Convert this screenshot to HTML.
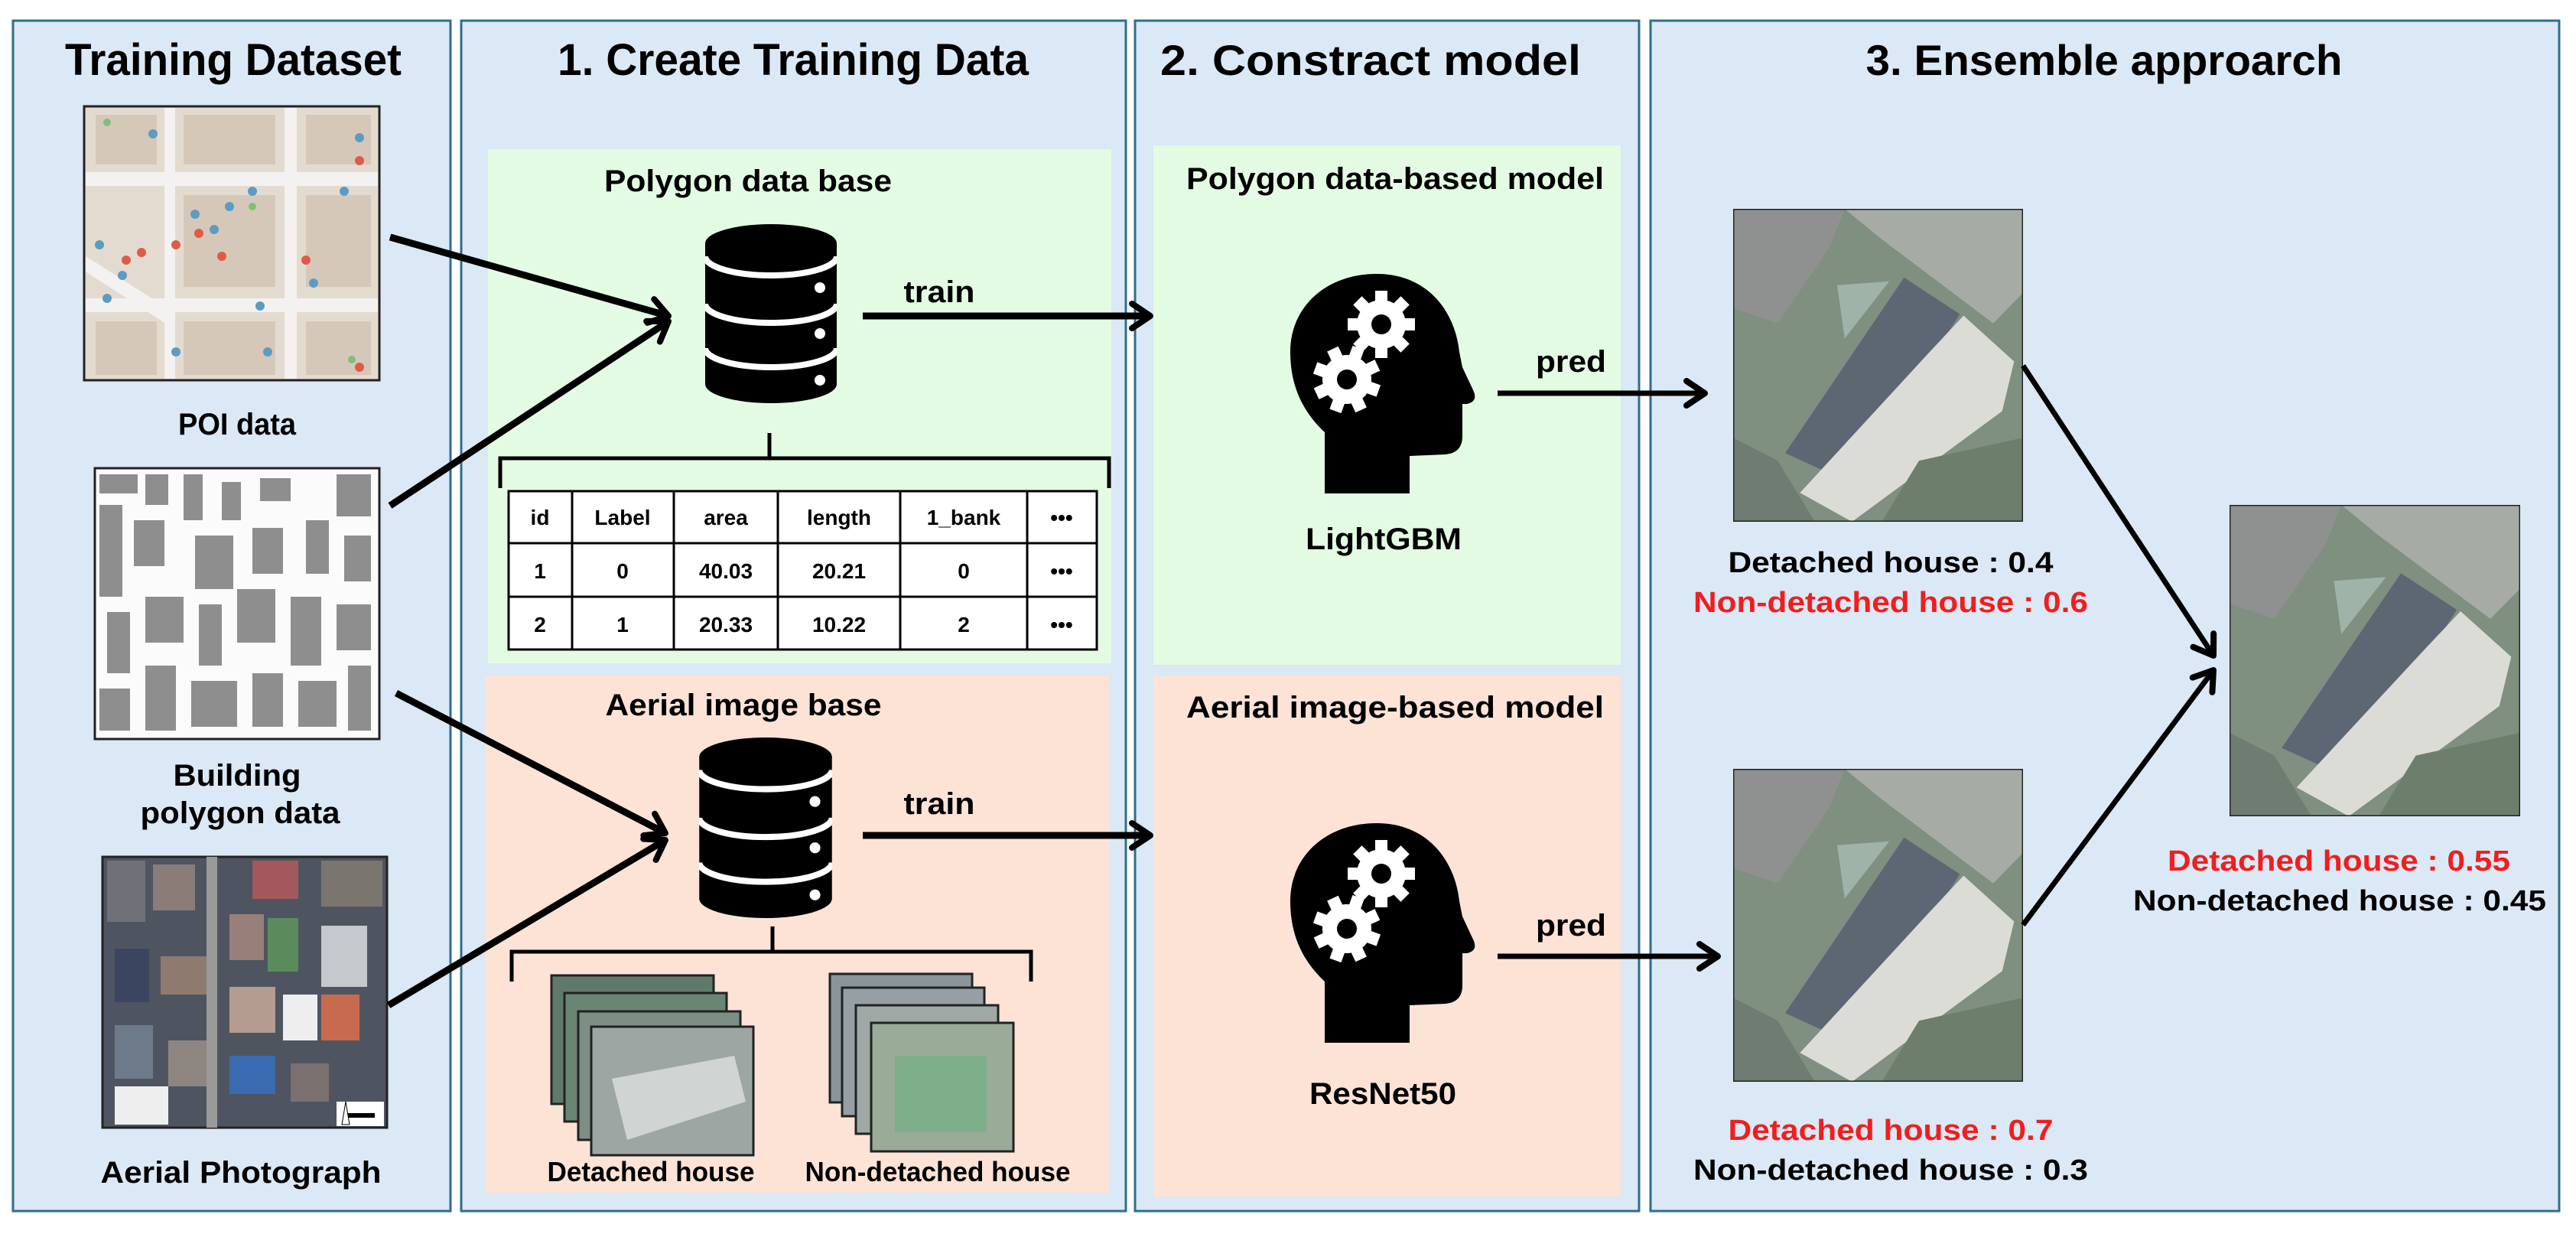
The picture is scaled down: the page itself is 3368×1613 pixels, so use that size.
<!DOCTYPE html>
<html><head><meta charset="utf-8"><style>
html,body{margin:0;padding:0;background:#fff;}
svg{display:block;}
text{font-family:"Liberation Sans",Arial,sans-serif;font-weight:bold;}
</style></head><body>
<svg width="3368" height="1613" viewBox="0 0 3368 1613" xmlns="http://www.w3.org/2000/svg">
<defs>
<marker id="ah" markerWidth="40" markerHeight="40" refX="30" refY="20" orient="auto" markerUnits="userSpaceOnUse">
<path d="M6,4 L30,20 L6,36" fill="none" stroke="#000" stroke-width="8" stroke-linecap="round" stroke-linejoin="round"/>
</marker>
<symbol id="house" viewBox="0 0 390 410" preserveAspectRatio="none">
<rect width="390" height="410" fill="#7f8f80"/>
<polygon points="0,0 150,0 130,50 60,150 0,130" fill="#8f9190"/>
<polygon points="150,0 390,0 390,110 350,150 200,40" fill="#a7aba5"/>
<polygon points="0,300 60,330 110,410 0,410" fill="#6f7c72"/>
<polygon points="230,90 305,138 160,360 70,320" fill="#5d6673"/>
<polygon points="140,100 210,95 150,170" fill="#9fb3a8"/>
<polygon points="310,140 378,200 362,265 160,410 90,372 262,190" fill="#dcdcd6"/>
<polygon points="250,330 390,300 390,410 200,410" fill="#6d7f6c"/>
<rect width="390" height="410" fill="none" stroke="#222" stroke-width="3"/>
</symbol>
<symbol id="db" viewBox="0 0 172 234">
<ellipse cx="86" cy="25" rx="86" ry="25" fill="#000"/>
<rect x="0" y="25" width="172" height="184" fill="#000"/>
<ellipse cx="86" cy="209" rx="86" ry="25" fill="#000"/>
<path d="M0,42 A86,25 0 0 0 172,42" fill="none" stroke="#fff" stroke-width="8"/>
<path d="M0,104 A86,25 0 0 0 172,104" fill="none" stroke="#fff" stroke-width="8"/>
<path d="M0,162 A86,25 0 0 0 172,162" fill="none" stroke="#fff" stroke-width="8"/>
<circle cx="150" cy="83" r="7" fill="#fff"/>
<circle cx="150" cy="143" r="7" fill="#fff"/>
<circle cx="150" cy="204" r="7" fill="#fff"/>
</symbol>
<g id="gear">
<g fill="#fff">
<circle r="32"/>
<rect x="-8" y="-44" width="16" height="88"/>
<rect x="-8" y="-44" width="16" height="88" transform="rotate(45)"/>
<rect x="-8" y="-44" width="16" height="88" transform="rotate(90)"/>
<rect x="-8" y="-44" width="16" height="88" transform="rotate(135)"/>
</g>
<circle r="13" fill="#000"/>
</g>
<symbol id="head" viewBox="0 0 260 320">
<path d="M52,315 L52,235 C20,205 7,170 7,130 C7,70 55,28 120,28 C185,28 222,75 228,130 L232,150 L247,182 Q252,195 238,198 L232,198 L232,240 Q232,262 210,264 L163,266 L163,315 Z" fill="#000"/>
<use href="#gear" transform="translate(126,94)"/>
<use href="#gear" transform="translate(81,166) rotate(20)"/>
</symbol>
</defs>

<!-- panels -->
<rect x="17" y="27" width="572" height="1556" fill="#dbe8f5" stroke="#2f6d8c" stroke-width="3"/>
<rect x="603" y="27" width="869" height="1556" fill="#dbe8f5" stroke="#2f6d8c" stroke-width="3"/>
<rect x="1484" y="27" width="659" height="1556" fill="#dbe8f5" stroke="#2f6d8c" stroke-width="3"/>
<rect x="2158" y="27" width="1188" height="1556" fill="#dbe8f5" stroke="#2f6d8c" stroke-width="3"/>

<rect x="638" y="195" width="815" height="672" fill="#e3fbe3"/>
<rect x="634" y="883" width="817" height="676" fill="#fce3d6"/>
<rect x="1508" y="190" width="611" height="679" fill="#e3fbe3"/>
<rect x="1508" y="883" width="611" height="681" fill="#fce3d6"/>

<!-- titles -->
<text x="305" y="98" font-size="58" text-anchor="middle" textLength="440" lengthAdjust="spacingAndGlyphs">Training Dataset</text>
<text x="1037" y="98" font-size="58" text-anchor="middle" textLength="616" lengthAdjust="spacingAndGlyphs">1. Create Training Data</text>
<text x="1792" y="98" font-size="56" text-anchor="middle" textLength="550" lengthAdjust="spacingAndGlyphs">2. Constract model</text>
<text x="2751" y="98" font-size="56" text-anchor="middle" textLength="623" lengthAdjust="spacingAndGlyphs">3. Ensemble approarch</text>

<!-- left images -->
<g>
<rect x="110" y="139" width="386" height="358" fill="#e4dbd0" stroke="#222" stroke-width="3"/>
<g fill="#f4f2f0">
<rect x="112" y="225" width="382" height="18"/><rect x="112" y="390" width="382" height="18"/>
<rect x="215" y="141" width="14" height="354"/><rect x="372" y="141" width="16" height="354"/>
<polygon points="112,335 230,410 220,425 112,355"/>
</g>
<g fill="#d6c8b8">
<rect x="125" y="150" width="80" height="65"/><rect x="240" y="150" width="120" height="65"/><rect x="400" y="150" width="85" height="65"/>
<rect x="240" y="255" width="120" height="120"/><rect x="400" y="255" width="85" height="120"/>
<rect x="125" y="420" width="80" height="70"/><rect x="240" y="420" width="120" height="70"/><rect x="400" y="420" width="85" height="70"/>
</g>
<g fill="#5c9bc4">
<circle cx="255" cy="280" r="6"/><circle cx="280" cy="300" r="6"/><circle cx="300" cy="270" r="6"/><circle cx="140" cy="390" r="6"/><circle cx="160" cy="360" r="6"/><circle cx="340" cy="400" r="6"/><circle cx="410" cy="370" r="6"/><circle cx="330" cy="250" r="6"/><circle cx="470" cy="180" r="6"/><circle cx="230" cy="460" r="6"/><circle cx="130" cy="320" r="6"/><circle cx="350" cy="460" r="6"/><circle cx="200" cy="175" r="6"/><circle cx="450" cy="250" r="6"/>
</g>
<g fill="#e05a4a">
<circle cx="260" cy="305" r="6"/><circle cx="165" cy="340" r="6"/><circle cx="185" cy="330" r="6"/><circle cx="230" cy="320" r="6"/><circle cx="290" cy="335" r="6"/><circle cx="470" cy="210" r="6"/><circle cx="470" cy="480" r="6"/><circle cx="400" cy="340" r="6"/>
</g>
<g fill="#7cc07a"><circle cx="140" cy="160" r="5"/><circle cx="330" cy="270" r="5"/><circle cx="460" cy="470" r="5"/></g>
</g>

<g>
<rect x="124" y="612" width="372" height="354" fill="#fbfbfb" stroke="#222" stroke-width="3"/>
<g fill="#8e8e8e">
<rect x="130" y="620" width="50" height="25"/><rect x="190" y="620" width="30" height="40"/><rect x="240" y="620" width="25" height="60"/><rect x="290" y="630" width="25" height="50"/><rect x="340" y="625" width="40" height="30"/><rect x="440" y="620" width="45" height="55"/>
<rect x="130" y="660" width="30" height="120"/><rect x="175" y="680" width="40" height="60"/><rect x="255" y="700" width="50" height="70"/><rect x="330" y="690" width="40" height="60"/><rect x="400" y="680" width="30" height="70"/><rect x="450" y="700" width="35" height="60"/>
<rect x="140" y="800" width="30" height="80"/><rect x="190" y="780" width="50" height="60"/><rect x="260" y="790" width="30" height="80"/><rect x="310" y="770" width="50" height="70"/><rect x="380" y="780" width="40" height="90"/><rect x="440" y="790" width="45" height="60"/>
<rect x="130" y="900" width="40" height="55"/><rect x="190" y="870" width="40" height="85"/><rect x="250" y="890" width="60" height="60"/><rect x="330" y="880" width="40" height="70"/><rect x="390" y="890" width="50" height="60"/><rect x="455" y="870" width="30" height="85"/>
</g>
</g>

<g>
<rect x="134" y="1120" width="372" height="354" fill="#4e5560" stroke="#222" stroke-width="3"/>
<g>
<rect x="140" y="1125" width="50" height="80" fill="#6f7078"/><rect x="200" y="1130" width="55" height="60" fill="#8a7d78"/><rect x="330" y="1125" width="60" height="50" fill="#a2585c"/><rect x="420" y="1125" width="80" height="60" fill="#7b7570"/>
<rect x="300" y="1195" width="45" height="60" fill="#98807a"/><rect x="350" y="1200" width="40" height="70" fill="#5b8a5d"/><rect x="420" y="1210" width="60" height="80" fill="#c5c8cc"/>
<rect x="150" y="1240" width="45" height="70" fill="#3c4560"/><rect x="210" y="1250" width="60" height="50" fill="#8f7a70"/><rect x="300" y="1290" width="60" height="60" fill="#b39c90"/><rect x="370" y="1300" width="45" height="60" fill="#eeeeee"/><rect x="420" y="1300" width="50" height="60" fill="#c86a50"/>
<rect x="150" y="1340" width="50" height="70" fill="#6c7a8a"/><rect x="220" y="1360" width="50" height="60" fill="#8d8680"/><rect x="300" y="1380" width="60" height="50" fill="#3a6ab0"/><rect x="380" y="1390" width="50" height="50" fill="#7a7070"/>
<rect x="150" y="1420" width="70" height="50" fill="#eeeeee"/><rect x="270" y="1120" width="14" height="354" fill="#9a9a98"/>
<rect x="440" y="1440" width="62" height="32" fill="#fff"/><rect x="450" y="1455" width="40" height="6" fill="#000"/>
<polygon points="447,1470 452,1440 457,1470" fill="#fff" stroke="#000" stroke-width="1"/>
</g>
</g>

<text x="310" y="568" font-size="40" text-anchor="middle" textLength="154" lengthAdjust="spacingAndGlyphs">POI data</text>
<text x="310" y="1027" font-size="40" text-anchor="middle" textLength="167" lengthAdjust="spacingAndGlyphs">Building</text>
<text x="314" y="1076" font-size="40" text-anchor="middle" textLength="261" lengthAdjust="spacingAndGlyphs">polygon data</text>
<text x="315" y="1546" font-size="40" text-anchor="middle" textLength="367" lengthAdjust="spacingAndGlyphs">Aerial Photograph</text>

<!-- panel 2 -->
<text x="978" y="250" font-size="40" text-anchor="middle" textLength="376" lengthAdjust="spacingAndGlyphs">Polygon data base</text>
<use href="#db" x="922" y="293" width="172" height="234"/>
<text x="1228" y="395" font-size="40" text-anchor="middle" textLength="93" lengthAdjust="spacingAndGlyphs">train</text>
<line x1="1128" y1="413" x2="1504" y2="413" stroke="#000" stroke-width="9" marker-end="url(#ah)"/>
<line x1="510" y1="310" x2="874" y2="413" stroke="#000" stroke-width="9" marker-end="url(#ah)"/>
<line x1="510" y1="661" x2="874" y2="420" stroke="#000" stroke-width="9" marker-end="url(#ah)"/>

<path d="M1006,566 L1006,599 M654,638 L654,599 L1450,599 L1450,638" fill="none" stroke="#000" stroke-width="5"/>
<g stroke="#000" stroke-width="3" fill="#fff">
<rect x="665" y="642" width="769" height="207"/>
<line x1="665" y1="710" x2="1434" y2="710"/><line x1="665" y1="780" x2="1434" y2="780"/>
<line x1="748" y1="642" x2="748" y2="849"/><line x1="881" y1="642" x2="881" y2="849"/><line x1="1017" y1="642" x2="1017" y2="849"/><line x1="1177" y1="642" x2="1177" y2="849"/><line x1="1343" y1="642" x2="1343" y2="849"/>
</g>
<g font-size="28" text-anchor="middle">
<text x="706" y="686">id</text><text x="814" y="686">Label</text><text x="949" y="686">area</text><text x="1097" y="686">length</text><text x="1260" y="686">1_bank</text><text x="1388" y="686">•••</text>
<text x="706" y="756">1</text><text x="814" y="756">0</text><text x="949" y="756">40.03</text><text x="1097" y="756">20.21</text><text x="1260" y="756">0</text><text x="1388" y="756">•••</text>
<text x="706" y="826">2</text><text x="814" y="826">1</text><text x="949" y="826">20.33</text><text x="1097" y="826">10.22</text><text x="1260" y="826">2</text><text x="1388" y="826">•••</text>
</g>

<text x="972" y="935" font-size="40" text-anchor="middle" textLength="361" lengthAdjust="spacingAndGlyphs">Aerial image base</text>
<use href="#db" x="914" y="964" width="174" height="236"/>
<text x="1228" y="1064" font-size="40" text-anchor="middle" textLength="93" lengthAdjust="spacingAndGlyphs">train</text>
<line x1="1128" y1="1092" x2="1504" y2="1092" stroke="#000" stroke-width="9" marker-end="url(#ah)"/>
<line x1="518" y1="906" x2="870" y2="1089" stroke="#000" stroke-width="9" marker-end="url(#ah)"/>
<line x1="508" y1="1314" x2="870" y2="1098" stroke="#000" stroke-width="9" marker-end="url(#ah)"/>
<path d="M1010,1211 L1010,1244 M669,1283 L669,1244 L1348,1244 L1348,1283" fill="none" stroke="#000" stroke-width="5"/>

<g stroke="#222" stroke-width="3">
<rect x="721" y="1275" width="212" height="168" fill="#5f7a6a"/>
<rect x="738" y="1298" width="212" height="168" fill="#6b8574"/>
<rect x="756" y="1322" width="212" height="168" fill="#7d8f84"/>
<rect x="773" y="1342" width="212" height="168" fill="#9ea6a3"/>
<rect x="1085" y="1273" width="186" height="168" fill="#8a959a"/>
<rect x="1101" y="1291" width="186" height="168" fill="#96a0a4"/>
<rect x="1119" y="1314" width="186" height="168" fill="#a0a8a6"/>
<rect x="1139" y="1337" width="186" height="168" fill="#9aab98"/>
</g>
<polygon points="800,1410 960,1380 975,1440 820,1490" fill="#d0d4d2"/>
<rect x="1170" y="1380" width="120" height="100" fill="#7fae8a"/>
<text x="851" y="1544" font-size="36" text-anchor="middle" textLength="271" lengthAdjust="spacingAndGlyphs">Detached house</text>
<text x="1226" y="1544" font-size="36" text-anchor="middle" textLength="347" lengthAdjust="spacingAndGlyphs">Non-detached house</text>

<!-- panel 3 -->
<text x="1824" y="247" font-size="40" text-anchor="middle" textLength="546" lengthAdjust="spacingAndGlyphs">Polygon data-based model</text>
<use href="#head" x="1680" y="330" width="260" height="320"/>
<text x="1809" y="718" font-size="40" text-anchor="middle" textLength="204" lengthAdjust="spacingAndGlyphs">LightGBM</text>
<text x="2054" y="486" font-size="40" text-anchor="middle" textLength="92" lengthAdjust="spacingAndGlyphs">pred</text>
<line x1="1958" y1="514" x2="2229" y2="514" stroke="#000" stroke-width="7" marker-end="url(#ah)"/>

<text x="1824" y="938" font-size="40" text-anchor="middle" textLength="546" lengthAdjust="spacingAndGlyphs">Aerial image-based model</text>
<use href="#head" x="1680" y="1048" width="260" height="320"/>
<text x="1808" y="1443" font-size="40" text-anchor="middle" textLength="192" lengthAdjust="spacingAndGlyphs">ResNet50</text>
<text x="2054" y="1223" font-size="40" text-anchor="middle" textLength="92" lengthAdjust="spacingAndGlyphs">pred</text>
<line x1="1958" y1="1250" x2="2246" y2="1250" stroke="#000" stroke-width="7" marker-end="url(#ah)"/>

<!-- panel 4 -->
<use href="#house" x="2266" y="273" width="379" height="409"/>
<use href="#house" x="2266" y="1005" width="379" height="409"/>
<use href="#house" x="2915" y="660" width="380" height="407"/>
<line x1="2645" y1="478" x2="2894" y2="857" stroke="#000" stroke-width="7" marker-end="url(#ah)"/>
<line x1="2645" y1="1209" x2="2894" y2="876" stroke="#000" stroke-width="7" marker-end="url(#ah)"/>

<g font-size="38" text-anchor="middle">
<text x="2472" y="748" textLength="425" lengthAdjust="spacingAndGlyphs">Detached house : 0.4</text>
<text x="2472" y="800" fill="#f01e1e" textLength="516" lengthAdjust="spacingAndGlyphs">Non-detached house : 0.6</text>
<text x="2472" y="1490" fill="#f01e1e" textLength="425" lengthAdjust="spacingAndGlyphs">Detached house : 0.7</text>
<text x="2472" y="1542" textLength="516" lengthAdjust="spacingAndGlyphs">Non-detached house : 0.3</text>
<text x="3058" y="1138" fill="#f01e1e" textLength="448" lengthAdjust="spacingAndGlyphs">Detached house : 0.55</text>
<text x="3059" y="1190" textLength="540" lengthAdjust="spacingAndGlyphs">Non-detached house : 0.45</text>
</g>
</svg>
</body></html>
